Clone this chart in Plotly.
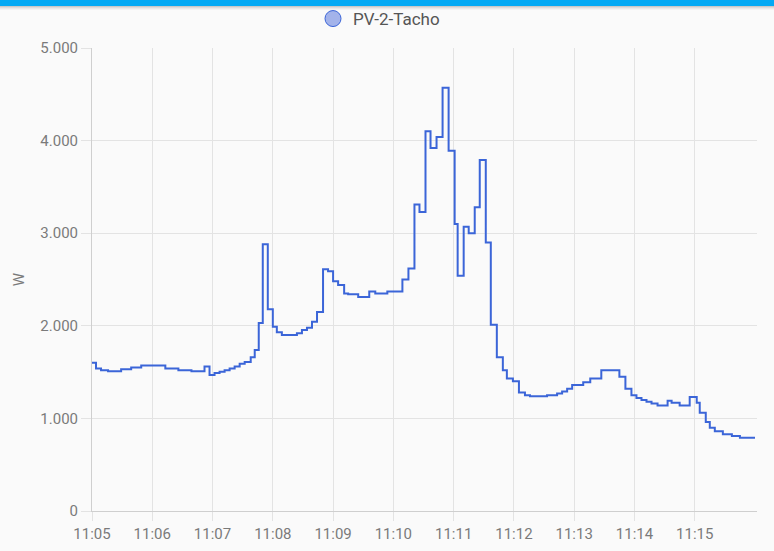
import plotly.graph_objects as go
import pandas as pd

# ---- data ----
times = [
    "11:05:00", "11:05:04", "11:05:09", "11:05:16", "11:05:29", "11:05:39", "11:05:49",
    "11:06:13", "11:06:26", "11:06:39", "11:06:52", "11:06:57",
    "11:07:02", "11:07:07", "11:07:12", "11:07:17", "11:07:22", "11:07:27", "11:07:32",
    "11:07:38", "11:07:42", "11:07:46", "11:07:50", "11:07:55",
    "11:08:00", "11:08:04", "11:08:09", "11:08:24", "11:08:29", "11:08:34", "11:08:39",
    "11:08:44", "11:08:50", "11:08:55",
    "11:09:00", "11:09:05", "11:09:11", "11:09:15", "11:09:25", "11:09:36", "11:09:42", "11:09:54",
    "11:10:09", "11:10:15", "11:10:21", "11:10:26", "11:10:32", "11:10:37", "11:10:43",
    "11:10:49", "11:10:55",
    "11:11:01", "11:11:04", "11:11:10", "11:11:15", "11:11:21", "11:11:26", "11:11:32",
    "11:11:37", "11:11:43", "11:11:49", "11:11:53", "11:11:59",
    "11:12:05", "11:12:11", "11:12:16", "11:12:33", "11:12:43", "11:12:48", "11:12:53", "11:12:58",
    "11:13:09", "11:13:16", "11:13:27", "11:13:45", "11:13:51", "11:13:57",
    "11:14:02", "11:14:07", "11:14:12", "11:14:17", "11:14:23", "11:14:33", "11:14:37",
    "11:14:45", "11:14:55",
    "11:15:02", "11:15:05", "11:15:11", "11:15:15", "11:15:20", "11:15:28", "11:15:37",
    "11:15:45", "11:16:00",
]
power_w = [
    1600, 1540, 1520, 1510, 1530, 1550, 1570,
    1540, 1520, 1510, 1560, 1470,
    1490, 1505, 1520, 1540, 1560, 1590, 1610,
    1660, 1740, 2030, 2880, 2180,
    1990, 1930, 1900, 1920, 1955, 1980, 2045,
    2150, 2610, 2590,
    2480, 2440, 2350, 2340, 2310, 2370, 2350, 2370,
    2500, 2620, 3310, 3230, 4100, 3920, 4040,
    4570, 3890,
    3100, 2540, 3070, 3000, 3280, 3790, 2900,
    2010, 1660, 1520, 1430, 1400,
    1280, 1250, 1240, 1250, 1270, 1290, 1320, 1360,
    1390, 1430, 1520, 1450, 1320, 1250,
    1220, 1200, 1180, 1160, 1140, 1190, 1170,
    1140, 1230,
    1170, 1060, 960, 900, 860, 830, 810,
    790, 790,
]
series_name = "PV-2-Tacho"
y_ticks = [0, 1000, 2000, 3000, 4000, 5000]
x_tick_labels = ["11:05", "11:06", "11:07", "11:08", "11:09", "11:10",
                 "11:11", "11:12", "11:13", "11:14", "11:15"]
date = "2024-01-01 "

x = pd.to_datetime([date + t for t in times])
x_tickvals = pd.to_datetime([date + t + ":00" for t in x_tick_labels])

LINE = "#3b65d8"
GRID = "#e3e3e3"
TXT = "#7a7a7a"

fig = go.Figure()
fig.add_trace(go.Scatter(
    x=x, y=power_w, mode="lines", line=dict(color=LINE, width=2, shape="hv"),
    name=series_name, showlegend=False, hoverinfo="x+y",
))
# legend entry drawn as circle
fig.add_trace(go.Scatter(
    x=[None], y=[None], mode="markers", name=series_name,
    marker=dict(symbol="circle", size=16, color="#a3b3ea", line=dict(color=LINE, width=1)),
))

W, H = 774, 551
ml, mr, mt, mb = 92, 17, 48, 40
pw, ph = W - ml - mr, H - mt - mb

shapes = []
# top blue bar + shadow
top = 1 + mt / ph
shapes.append(dict(type="rect", xref="paper", yref="paper",
                   x0=-ml / pw, x1=1 + mr / pw, y0=top - 6 / ph, y1=top,
                   fillcolor="#03a9f4", line=dict(width=0), layer="above"))
for i, op in enumerate([0.20, 0.12, 0.07, 0.03]):
    shapes.append(dict(type="rect", xref="paper", yref="paper",
                       x0=-ml / pw, x1=1 + mr / pw,
                       y0=top - (7 + i) / ph, y1=top - (6 + i) / ph,
                       fillcolor=f"rgba(0,0,0,{op})", line=dict(width=0), layer="above"))

fig.update_layout(
    width=W, height=H,
    margin=dict(l=ml, r=mr, t=mt, b=mb, autoexpand=False),
    paper_bgcolor="#fafafa", plot_bgcolor="#fafafa",
    separators=",.",
    font=dict(family="Roboto, sans-serif", color=TXT, size=15),
    showlegend=True,
    legend=dict(orientation="h", x=(W / 2 - 8 - ml) / pw, xanchor="center",
                y=1 + (mt - 19) / ph, yanchor="middle",
                font=dict(size=17, color="#555555"), itemsizing="trace",
                bgcolor="rgba(0,0,0,0)"),
    shapes=shapes,
    hovermode="x",
)
fig.update_xaxes(
    range=[pd.Timestamp(date + "11:05:00"), pd.Timestamp(date + "11:16:02")],
    tickvals=x_tickvals, ticktext=x_tick_labels,
    showgrid=True, gridcolor=GRID, gridwidth=1,
    showline=True, linecolor="#cfcfcf", linewidth=1,
    ticks="outside", ticklen=9, tickcolor=GRID,
    tickfont=dict(size=15, color=TXT), zeroline=False,
)
fig.update_yaxes(
    range=[0, 5000], tickvals=y_ticks, tickformat=",d",
    showgrid=True, gridcolor=GRID, gridwidth=1,
    showline=True, linecolor="#cfcfcf", linewidth=1,
    ticks="outside", ticklen=10, tickcolor=GRID,
    tickfont=dict(size=15, color=TXT), zeroline=False,
    title=dict(text="W", font=dict(size=15, color=TXT), standoff=12),
)

fig.write_html("out.html", config={"displayModeBar": False},
               post_script="document.body.style.margin='0';")
